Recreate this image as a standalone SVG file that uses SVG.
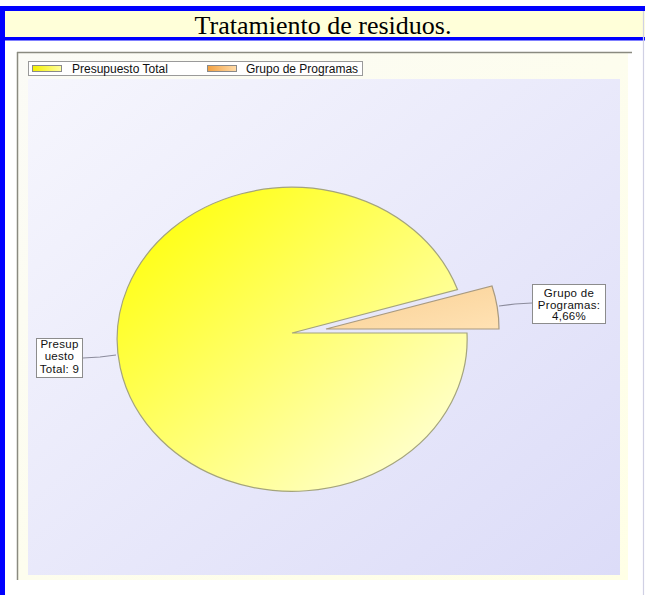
<svg xmlns="http://www.w3.org/2000/svg" width="645" height="595" viewBox="0 0 645 595">
  <style>
    .title { font-family: "Liberation Serif", "Times New Roman", serif; font-size: 26px; fill: #000; }
    .leg { font-family: "Liberation Sans", Arial, sans-serif; font-size: 12px; fill: #111; }
    .lbl { font-family: "Liberation Sans", Arial, sans-serif; font-size: 11.5px; fill: #111; text-anchor: middle; letter-spacing: 0.3px; }
    .box { fill: #ffffff; stroke: #8c8c8c; stroke-width: 1; }
    .conn { fill: none; stroke: #8c8c9c; stroke-width: 1.2; }
  </style>
  <defs>
    <linearGradient id="gPie" x1="0" y1="0" x2="1" y2="1">
      <stop offset="0.1" stop-color="#ffff10"/>
      <stop offset="1" stop-color="#ffffe8"/>
    </linearGradient>
    <linearGradient id="gSlice" x1="0" y1="0" x2="1" y2="1">
      <stop offset="0" stop-color="#f9cf92"/>
      <stop offset="1" stop-color="#ffe2b4"/>
    </linearGradient>
    <linearGradient id="gPlot" x1="0" y1="0" x2="1" y2="1">
      <stop offset="0" stop-color="#f6f6fd"/>
      <stop offset="1" stop-color="#dcdcf8"/>
    </linearGradient>
    <linearGradient id="gChart" x1="0" y1="0" x2="1" y2="1">
      <stop offset="0" stop-color="#fbfbf6"/>
      <stop offset="1" stop-color="#ffffe6"/>
    </linearGradient>
    <linearGradient id="gSwY" x1="0" y1="0" x2="1" y2="0">
      <stop offset="0" stop-color="#f4f000"/>
      <stop offset="1" stop-color="#ffffa0"/>
    </linearGradient>
    <linearGradient id="gSwO" x1="0" y1="0" x2="1" y2="0">
      <stop offset="0" stop-color="#f2a040"/>
      <stop offset="1" stop-color="#ffdcaa"/>
    </linearGradient>
  </defs>

  <!-- page background -->
  <rect x="0" y="0" width="645" height="595" fill="#ffffff"/>

  <!-- frame -->
  <g id="frame">
    <rect x="0" y="6" width="645" height="5" fill="#0000ff"/>
    <rect x="0" y="6" width="5" height="589" fill="#0000ff"/>
    <rect x="5" y="11" width="640" height="26" fill="#ffffd9"/>
    <rect x="0" y="37" width="645" height="3.5" fill="#0000ff"/>
    <line x1="643.5" y1="11" x2="643.5" y2="595" stroke="#d0d0e4" stroke-width="1.2"/>
  </g>

  <g id="title">
    <text class="title" x="323" y="34" text-anchor="middle">Tratamiento de residuos.</text>
  </g>

  <!-- chart area -->
  <g id="chart">
    <rect x="17" y="52" width="611" height="528" fill="url(#gChart)"/>
    <line x1="17" y1="52.5" x2="632" y2="52.5" stroke="#8a8a80" stroke-width="1.5"/>
    <line x1="17.5" y1="52" x2="17.5" y2="580" stroke="#8a8a80" stroke-width="1.5"/>
    <rect x="28" y="79" width="592" height="496" fill="url(#gPlot)"/>
  </g>

  <g id="legend">
    <rect x="28.5" y="61.5" width="334" height="14" fill="#ffffff" stroke="#9a9a9a" stroke-width="1"/>
    <rect x="32.5" y="65.5" width="29" height="6" fill="url(#gSwY)" stroke="#8a8a8a" stroke-width="1"/>
    <text class="leg" x="72" y="73">Presupuesto Total</text>
    <rect x="207.5" y="65.5" width="29" height="6" fill="url(#gSwO)" stroke="#8a8a8a" stroke-width="1"/>
    <text class="leg" x="246" y="73">Grupo de Programas</text>
  </g>

  <!-- connectors -->
  <g id="connectors">
    <polyline class="conn" points="83,358 100,357 116,355"/>
    <polyline class="conn" points="499,306 515,304 532,303"/>
  </g>

  <g id="slice-presupuesto">
    <path d="M292,333 L467,333 A175,152 0 1 1 457.5,289.5 Z" fill="url(#gPie)" stroke="#a4a47c" stroke-width="1.2"/>
  </g>

  <g id="slice-grupo">
    <path d="M326,329 L499,329 A175,152 0 0 0 492,286 Z" fill="url(#gSlice)" stroke="#a89a80" stroke-width="1.2"/>
  </g>

  <g id="label-presupuesto">
    <rect class="box" x="36.5" y="338.5" width="46" height="39"/>
    <text class="lbl" x="59.5" y="347.5">Presup</text>
    <text class="lbl" x="59.5" y="360">uesto</text>
    <text class="lbl" x="59.5" y="372.5">Total: 9</text>
  </g>

  <g id="label-grupo">
    <rect class="box" x="532.5" y="284.5" width="73" height="39"/>
    <text class="lbl" x="569" y="297">Grupo de</text>
    <text class="lbl" x="569" y="308.5">Programas:</text>
    <text class="lbl" x="569" y="320">4,66%</text>
  </g>
</svg>
